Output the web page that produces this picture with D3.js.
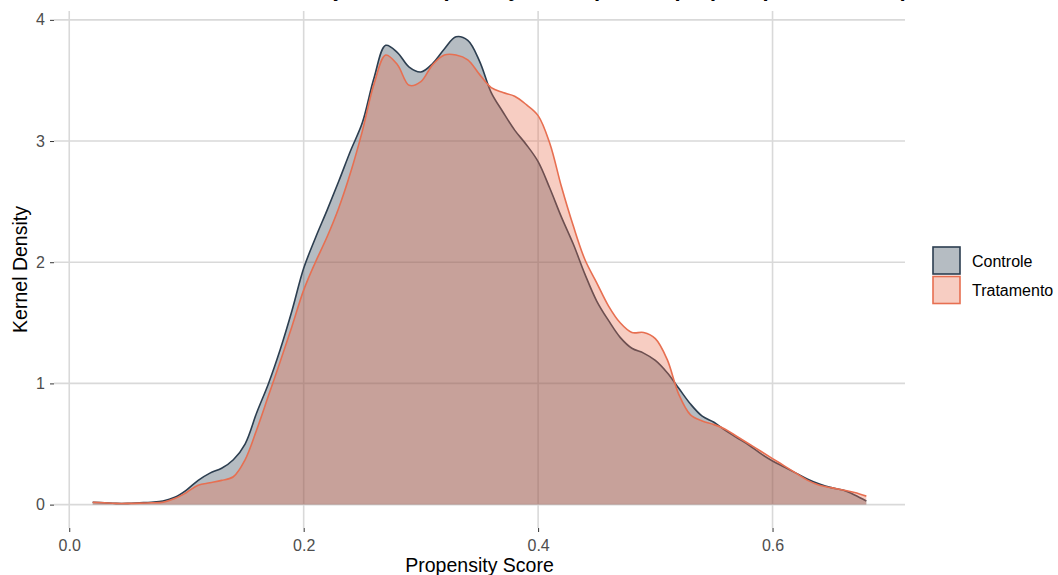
<!DOCTYPE html>
<html>
<head>
<meta charset="utf-8">
<script src="https://cdn.jsdelivr.net/npm/d3@7"></script>
<style>
  body { margin: 0; background: #fff; }
  svg { display: block; font-family: "Liberation Sans", Arial, sans-serif; }
  .axis line { stroke: #333; }
  .axis-title { font-size: 19.5px; fill: #000; }
  .legend-label { font-size: 16px; fill: #000; }
</style>
</head>
<body>
<div id="chart"></div>
<script>
// Data
const scores = [
  0.02, 0.03, 0.04, 0.05, 0.06, 0.07, 0.08, 0.09, 0.10, 0.11,
  0.12, 0.13, 0.14, 0.15, 0.16, 0.17, 0.18, 0.19, 0.20, 0.21,
  0.22, 0.23, 0.24, 0.25, 0.26, 0.27, 0.28, 0.29, 0.30, 0.31,
  0.32, 0.33, 0.34, 0.35, 0.36, 0.37, 0.38, 0.39, 0.40, 0.41,
  0.42, 0.43, 0.44, 0.45, 0.46, 0.47, 0.48, 0.49, 0.50, 0.51,
  0.52, 0.53, 0.54, 0.55, 0.56, 0.57, 0.58, 0.59, 0.60, 0.61,
  0.62, 0.63, 0.64, 0.65, 0.66, 0.67, 0.68
];
const controleDensity = [
  0.02, 0.015, 0.01, 0.01, 0.015, 0.02, 0.03, 0.06, 0.12, 0.20,
  0.26, 0.30, 0.37, 0.50, 0.76, 1.00, 1.28, 1.60, 1.95, 2.20,
  2.43, 2.67, 2.92, 3.15, 3.52, 3.79, 3.73, 3.61, 3.57, 3.64,
  3.76, 3.86, 3.83, 3.66, 3.40, 3.24, 3.09, 2.97, 2.83, 2.61,
  2.37, 2.15, 1.90, 1.68, 1.52, 1.38, 1.29, 1.25, 1.19, 1.09,
  0.96, 0.83, 0.73, 0.68, 0.61, 0.55, 0.49, 0.42, 0.36, 0.31,
  0.26, 0.21, 0.17, 0.14, 0.12, 0.08, 0.03
];
const tratamentoDensity = [
  0.02, 0.015, 0.01, 0.01, 0.012, 0.015, 0.02, 0.05, 0.10, 0.16,
  0.18, 0.20, 0.23, 0.37, 0.62, 0.90, 1.18, 1.47, 1.77, 2.00,
  2.21, 2.45, 2.74, 3.08, 3.47, 3.71, 3.63, 3.46, 3.49, 3.63,
  3.71, 3.71, 3.67, 3.55, 3.44, 3.40, 3.37, 3.30, 3.21, 2.98,
  2.62, 2.30, 2.02, 1.83, 1.64, 1.50, 1.42, 1.42, 1.37, 1.20,
  0.91, 0.74, 0.69, 0.66, 0.62, 0.56, 0.50, 0.44, 0.38, 0.32,
  0.26, 0.20, 0.16, 0.14, 0.12, 0.10, 0.07
];
const groups = ["Controle", "Tratamento"];
const xTicks = [0.0, 0.2, 0.4, 0.6];
const yTicks = [0, 1, 2, 3, 4];
const titleText = "Distribuição do Propensity Score por Grupo (Não pareado, ATT)";

const series = [
  { group: "Controle", values: scores.map((s, i) => ({ x: s, y: controleDensity[i] })) },
  { group: "Tratamento", values: scores.map((s, i) => ({ x: s, y: tratamentoDensity[i] })) }
];

// Dimensions
const width = 1058;
const height = 575;
const panel = { left: 54, right: 905, top: 11, bottom: 528 };

// Colours
const colorScale = d3.scaleOrdinal().domain(groups).range(["#2C3E50", "#E76F51"]);
const fillOpacity = 0.35;
const tickTextColor = "#4d4d4d";

// Scales (ggplot style 5% expansion)
const xMin = d3.min(scores), xMax = d3.max(scores);
const xPad = (xMax - xMin) * 0.05;
const xScale = d3.scaleLinear()
  .domain([xMin - xPad, xMax + xPad])
  .range([panel.left, panel.right]);

const yMax = d3.max([...controleDensity, ...tratamentoDensity]);
const yPad = yMax * 0.05;
const yScale = d3.scaleLinear()
  .domain([-yPad, yMax + yPad + 0.02])
  .range([panel.bottom, panel.top]);

const svg = d3.select("#chart").append("svg")
  .attr("width", width)
  .attr("height", height);

// Title (almost entirely above the visible area, as in the reference)
svg.append("text")
  .attr("x", 908)
  .attr("y", -4)
  .attr("text-anchor", "end")
  .attr("font-size", 22)
  .attr("font-weight", "bold")
  .text(titleText);

// Grid lines
const grid = svg.append("g").attr("class", "grid");
grid.selectAll(".gx").data(xTicks).join("line")
  .attr("x1", (d) => xScale(d)).attr("x2", (d) => xScale(d))
  .attr("y1", panel.top).attr("y2", panel.bottom)
  .attr("stroke", "#d9d9d9").attr("stroke-width", 1.6);
grid.selectAll(".gy").data(yTicks).join("line")
  .attr("x1", panel.left).attr("x2", panel.right)
  .attr("y1", (d) => yScale(d)).attr("y2", (d) => yScale(d))
  .attr("stroke", "#d9d9d9").attr("stroke-width", 1.6);

// Density areas
const area = d3.area()
  .curve(d3.curveCatmullRom)
  .x((d) => xScale(d.x))
  .y0(yScale(0))
  .y1((d) => yScale(d.y));
const line = d3.line()
  .curve(d3.curveCatmullRom)
  .x((d) => xScale(d.x))
  .y((d) => yScale(d.y));

const densityG = svg.append("g").selectAll("g").data(series).join("g");
densityG.append("path")
  .attr("d", (d) => area(d.values))
  .attr("fill", (d) => colorScale(d.group))
  .attr("fill-opacity", fillOpacity);
densityG.append("path")
  .attr("d", (d) => line(d.values))
  .attr("fill", "none")
  .attr("stroke", (d) => colorScale(d.group))
  .attr("stroke-width", 1.6);

// Axes
const xAxisG = svg.append("g")
  .attr("class", "axis")
  .attr("transform", `translate(0,${panel.bottom})`)
  .call(d3.axisBottom(xScale).tickValues(xTicks).tickSize(4).tickPadding(8).tickFormat(d3.format(".1f")));
xAxisG.select(".domain").remove();

const yAxisG = svg.append("g")
  .attr("class", "axis")
  .attr("transform", `translate(${panel.left},0)`)
  .call(d3.axisLeft(yScale).tickValues(yTicks).tickSize(4).tickPadding(5).tickFormat(d3.format("d")));
yAxisG.select(".domain").remove();

svg.selectAll(".axis").attr("font-size", 16);
svg.selectAll(".axis text")
  .attr("font-family", "Liberation Sans, Arial, sans-serif")
  .attr("fill", tickTextColor);

// Axis titles
svg.append("text")
  .attr("class", "axis-title")
  .attr("x", (panel.left + panel.right) / 2)
  .attr("y", 572)
  .attr("text-anchor", "middle")
  .text("Propensity Score");

svg.append("text")
  .attr("class", "axis-title")
  .attr("transform", `translate(27,${(panel.top + panel.bottom) / 2}) rotate(-90)`)
  .attr("text-anchor", "middle")
  .text("Kernel Density");

// Legend
const legend = svg.append("g").attr("transform", "translate(933,247)");
const legendItem = legend.selectAll("g").data(groups).join("g")
  .attr("transform", (d, i) => `translate(0,${i * 29.5})`);
legendItem.append("rect")
  .attr("width", 27).attr("height", 27)
  .attr("fill", "#fff");
legendItem.append("rect")
  .attr("width", 27).attr("height", 27)
  .attr("fill", (d) => colorScale(d))
  .attr("fill-opacity", fillOpacity)
  .attr("stroke", (d) => colorScale(d))
  .attr("stroke-width", 1.6);
legendItem.append("text")
  .attr("class", "legend-label")
  .attr("x", 39)
  .attr("y", 14)
  .attr("dy", "0.35em")
  .text((d) => d);
</script>
</body>
</html>
